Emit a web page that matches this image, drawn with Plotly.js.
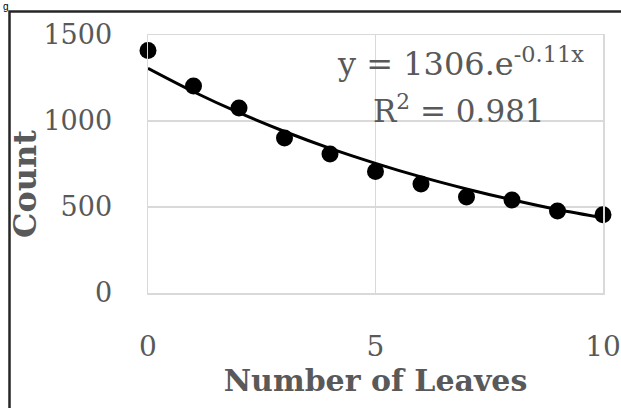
<!DOCTYPE html>
<html>
<head>
<meta charset="utf-8">
<script src="https://cdn.plot.ly/plotly-3.0.1.min.js"></script>
<style>
  html, body { margin: 0; padding: 0; background: #ffffff; }
  #chart { width: 621px; height: 408px; }
</style>
</head>
<body>
<div id="chart"></div>
<script>
// Data
const leaves = [0, 1, 2, 3, 4, 5, 6, 7, 8, 9, 10];
const counts = [1410, 1203, 1075, 901, 808, 707, 634, 558, 541, 477, 455];
const trendX = [0, 1, 2, 3, 4, 5, 6, 7, 8, 9, 10];
const trendY = [1306, 1170, 1048, 939, 841, 754, 675, 605, 542, 485, 437];
const xTicks = [0, 5, 10];
const yTicks = [0, 500, 1000, 1500];
const equationText = 'y = 1306.e<sup>-0.11x</sup>';
const r2Text = 'R<sup>2</sup> = 0.981';
const xTitle = 'Number of Leaves';
const yTitle = 'Count';

const textColor = '#595959';
const serif = 'DejaVu Serif, Cambria, serif';

const traces = [
  {
    x: trendX, y: trendY, type: 'scatter', mode: 'lines',
    line: { color: '#000000', width: 3, shape: 'spline', smoothing: 1 },
    hoverinfo: 'skip', showlegend: false, cliponaxis: false
  },
  {
    x: leaves, y: counts, type: 'scatter', mode: 'markers',
    marker: { color: '#000000', size: 17 },
    showlegend: false, cliponaxis: false
  }
];

const layout = {
  width: 621, height: 408,
  margin: { l: 148, r: 18, t: 35, b: 115, pad: 0 },
  paper_bgcolor: '#ffffff', plot_bgcolor: '#ffffff',
  showlegend: false,
  font: { family: serif, color: textColor },
  xaxis: {
    range: [0, 10], tickvals: xTicks, ticktext: xTicks.map(String),
    showgrid: true, gridcolor: '#d9d9d9', gridwidth: 1.5,
    showline: true, linecolor: '#d9d9d9', linewidth: 1.5, mirror: true,
    zeroline: false, ticks: '',
    ticklabelstandoff: 28,
    tickfont: { family: serif, size: 28, color: textColor },
    title: { text: xTitle, font: { family: serif, size: 30, color: textColor, weight: 'bold' }, standoff: 8 }
  },
  yaxis: {
    range: [0, 1500], tickvals: yTicks, ticktext: yTicks.map(String),
    showgrid: true, gridcolor: '#d9d9d9', gridwidth: 1.5,
    showline: true, linecolor: '#d9d9d9', linewidth: 1.5, mirror: true,
    zeroline: false, ticks: '',
    ticklabelstandoff: 29,
    tickfont: { family: serif, size: 27, color: textColor }
  },
  annotations: [
    {
      xref: 'x', yref: 'y', x: 6.87, y: 1343, text: equationText, showarrow: false,
      font: { family: serif, size: 32, color: textColor }, xanchor: 'center', yanchor: 'middle'
    },
    {
      xref: 'x', yref: 'y', x: 6.83, y: 1070, text: r2Text, showarrow: false,
      font: { family: serif, size: 31, color: textColor }, xanchor: 'center', yanchor: 'middle'
    },
    {
      xref: 'paper', yref: 'paper', x: (25 - 148) / 455, y: (293 - 184) / 258,
      text: yTitle, textangle: -90, showarrow: false,
      font: { family: serif, size: 32, color: textColor, weight: 'bold' },
      xanchor: 'center', yanchor: 'middle'
    },
    {
      xref: 'paper', yref: 'paper', x: (1 - 148) / 455, y: (293 + 1) / 258,
      text: 'g', showarrow: false,
      font: { family: 'Liberation Sans, sans-serif', size: 10, color: '#000000' },
      xanchor: 'left', yanchor: 'top'
    }
  ],
  shapes: [
    {
      type: 'rect', xref: 'paper', yref: 'paper',
      x0: (9.5 - 148) / 455, x1: (640 - 148) / 455,
      y0: (293 - 430) / 258, y1: (293 - 11.5) / 258,
      line: { color: '#262626', width: 2.5 }, fillcolor: 'rgba(0,0,0,0)', layer: 'above'
    }
  ]
};

Plotly.newPlot('chart', traces, layout, { staticPlot: true, displayModeBar: false });
</script>
</body>
</html>
